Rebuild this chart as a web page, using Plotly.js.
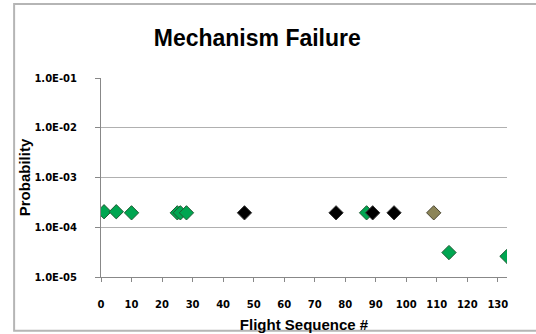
<!DOCTYPE html>
<html><head><meta charset="utf-8">
<script src="https://cdn.plot.ly/plotly-3.0.1.min.js"></script>
<style>body{margin:0;padding:0;background:#fff}#c{width:536px;height:334px}</style>
</head><body><div id="c"></div>
<script>
const greenX = [1, 5, 10, 25, 26, 28, 87, 114, 133];
const greenY = [2.05e-4, 2.05e-4, 1.95e-4, 1.95e-4, 1.95e-4, 1.95e-4, 1.95e-4, 3.1e-5, 2.6e-5];
const blackX = [47, 77, 89, 96];
const blackY = [1.95e-4, 1.95e-4, 1.95e-4, 1.95e-4];
const oliveX = [109];
const oliveY = [1.95e-4];
const yTickVals = [1e-5, 1e-4, 1e-3, 1e-2, 1e-1];
const yTickText = ["1.0E-05", "1.0E-04", "1.0E-03", "1.0E-02", "1.0E-01"];
const xTickVals = [0,10,20,30,40,50,60,70,80,90,100,110,120,130];

const mk = (x, y, fill, line) => ({
  x: x, y: y, type: 'scatter', mode: 'markers', showlegend: false,
  marker: {symbol: 'diamond', size: 11, color: fill, line: {color: line, width: 1}}
});

const tickFont = {family: 'DejaVu Sans, Arial', size: 10, color: '#000', weight: 700};

const layout = {
  width: 536, height: 334,
  margin: {l: 101, r: 29, t: 78, b: 57},
  paper_bgcolor: '#fff', plot_bgcolor: '#fff',
  title: {text: '<b>Mechanism Failure</b>', font: {family: 'Liberation Sans, Arial', size: 23, color: '#000'},
          x: 0.48, xanchor: 'center', y: 0.885, yanchor: 'middle'},
  xaxis: {range: [0, 133], tickvals: xTickVals, ticks: 'outside', ticklen: 4, tickcolor: '#888',
          showline: true, linecolor: '#888', linewidth: 1, showgrid: false, zeroline: false,
          tickfont: tickFont, ticklabelstandoff: 14,
          title: {text: '<b>Flight Sequence #</b>', font: {family: 'Liberation Sans, Arial', size: 15, color: '#000'}, standoff: 10}},
  yaxis: {type: 'log', range: [-5, -1], tickvals: yTickVals, ticktext: yTickText, ticks: 'outside', ticklen: 5,
          tickcolor: '#888', showline: true, linecolor: '#888', linewidth: 1, showgrid: true, gridcolor: '#b0b0b0', gridwidth: 1,
          zeroline: false, tickfont: tickFont, ticklabelstandoff: 16,
          title: {text: '<b>Probability</b>', font: {family: 'Liberation Sans, Arial', size: 15, color: '#000'}, standoff: 0}},
  shapes: [{type: 'path', xref: 'paper', yref: 'paper',
            path: 'M 1.1 1.372 L -0.214 1.372 L -0.214 -0.27 L 1.1 -0.27',
            line: {color: '#b5b5b5', width: 2}}]
};

Plotly.newPlot('c', [
  mk(greenX, greenY, '#00a651', '#1e5a32'),
  mk(blackX, blackY, '#000000', '#333333'),
  mk(oliveX, oliveY, '#8c8558', '#4a4630')
], layout, {staticPlot: true, displayModeBar: false});
</script></body></html>
